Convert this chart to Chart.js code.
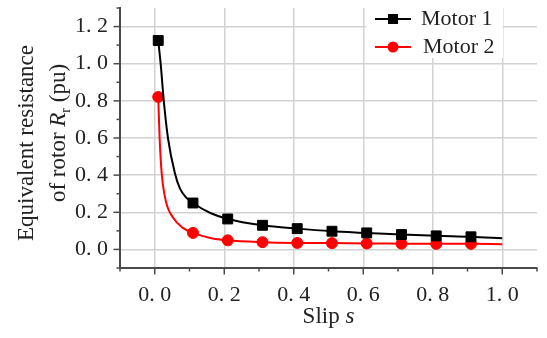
<!DOCTYPE html>
<html>
<head>
<meta charset="utf-8">
<script src="https://cdn.jsdelivr.net/npm/chart.js@4"></script>
<style>
  body { margin: 0; background: #fff; }
  #wrap { width: 547px; height: 338px; }
</style>
</head>
<body>
<div id="wrap"><canvas id="chart1" width="547" height="338"></canvas></div>
<script>
  // slip values where the markers sit
  const slipMarks = [0.01, 0.11, 0.21, 0.31, 0.41, 0.51, 0.61, 0.71, 0.81, 0.91];
  const motor1Marks = [1.125, 0.25, 0.164, 0.130, 0.112, 0.098, 0.089, 0.080, 0.073, 0.068];
  const motor2Marks = [0.821, 0.089, 0.049, 0.039, 0.035, 0.034, 0.032, 0.031, 0.030, 0.030];

  // points along the continuous curves
  const motor1CurveS = [0.01, 0.017, 0.026, 0.038, 0.058, 0.072, 0.09, 0.11, 0.16, 0.21, 0.31, 0.41, 0.51, 0.61, 0.71, 0.81, 0.91, 1.0];
  const motor1CurveR = [1.125, 1.0, 0.8, 0.6, 0.41, 0.33, 0.28, 0.25, 0.196, 0.164, 0.130, 0.112, 0.098, 0.089, 0.080, 0.073, 0.068, 0.060];
  const motor2CurveS = [0.01, 0.014, 0.02, 0.032, 0.053, 0.081, 0.11, 0.16, 0.21, 0.31, 0.41, 0.51, 0.61, 0.71, 0.81, 0.91, 1.0];
  const motor2CurveR = [0.821, 0.6, 0.41, 0.26, 0.17, 0.116, 0.089, 0.062, 0.049, 0.039, 0.035, 0.034, 0.032, 0.031, 0.030, 0.030, 0.028];

  const seriesNames = ['Motor 1', 'Motor 2'];
  const seriesColors = ['#000000', '#ff0000'];

  const serif = '"Liberation Serif", "Times New Roman", serif';
  const gridColor = '#d2d2d2';
  const axisColor = '#4a4a4a';
  const textColor = '#222222';

  const toXY = (xs, ys) => xs.map((x, i) => ({ x: x, y: ys[i] }));

  function gridFor(maxK) {
    return (c) => {
      const k = Math.round(c.tick.value * 10);
      return (k % 2 === 0 && k >= 0 && k <= maxK) ? gridColor : 'rgba(0,0,0,0)';
    };
  }
  function labelFor(maxK) {
    return (v) => {
      const k = Math.round(v * 10);
      if (k % 2 !== 0 || k < 0 || k > maxK) return '';
      return (k / 10).toFixed(1).replace('.', '. ');
    };
  }

  // outward ticks, legend and axis titles
  const extras = {
    id: 'extras',
    afterDraw(chart) {
      const c = chart.ctx;
      const xs = chart.scales.x, ys = chart.scales.y;
      const area = chart.chartArea;
      c.save();
      c.strokeStyle = axisColor;
      c.lineWidth = 1.5;
      for (let k = -1; k <= 11; k++) {
        const px = xs.getPixelForValue(k / 10);
        const len = (k % 2 === 0 && k >= 0 && k <= 10) ? 6.5 : 3.5;
        c.beginPath(); c.moveTo(px, area.bottom); c.lineTo(px, area.bottom + len); c.stroke();
      }
      for (let k = -1; k <= 13; k++) {
        const py = ys.getPixelForValue(k / 10);
        const len = (k % 2 === 0 && k >= 0 && k <= 12) ? 6.5 : 3.5;
        c.beginPath(); c.moveTo(area.left, py); c.lineTo(area.left - len, py); c.stroke();
      }

      // legend
      c.fillStyle = '#fff';
      c.fillRect(366, 4, 137, 54);
      const rows = [19, 47];
      const textX = [421, 423];
      rows.forEach((y, i) => {
        c.strokeStyle = seriesColors[i];
        c.fillStyle = seriesColors[i];
        c.lineWidth = 2;
        c.beginPath(); c.moveTo(375, y); c.lineTo(411, y); c.stroke();
        if (i === 0) {
          c.fillRect(393 - 5, y - 5, 10, 10);
        } else {
          c.beginPath(); c.arc(393, y, 5.5, 0, Math.PI * 2); c.fill();
        }
        c.fillStyle = textColor;
        c.font = '22px ' + serif;
        c.textAlign = 'left';
        c.textBaseline = 'alphabetic';
        c.fillText(seriesNames[i], textX[i], y + 6);
      });

      // x title: Slip s
      c.fillStyle = textColor;
      c.textBaseline = 'alphabetic';
      c.textAlign = 'left';
      const reg = '23px ' + serif, ita = 'italic 23px ' + serif;
      c.font = reg; const w1 = c.measureText('Slip ').width;
      c.font = ita; const w2 = c.measureText('s').width;
      let x0 = (area.left + area.right) / 2 - (w1 + w2) / 2;
      c.font = reg; c.fillText('Slip ', x0, 323);
      c.font = ita; c.fillText('s', x0 + w1, 323);

      // y title, two rotated lines
      c.save();
      c.translate(32.5, 143);
      c.rotate(-Math.PI / 2);
      c.font = reg;
      c.textAlign = 'center';
      c.fillText('Equivalent resistance', 0, 0);
      c.restore();

      c.save();
      c.translate(65, 133);
      c.rotate(-Math.PI / 2);
      c.textAlign = 'left';
      const sub = '14px ' + serif;
      const parts = [['of rotor ', reg, 0], ['R', ita, 0], ['r', sub, 5], [' (pu)', reg, 0]];
      let total = 0;
      parts.forEach(p => { c.font = p[1]; p.push(c.measureText(p[0]).width); total += p[3]; });
      let px = -total / 2;
      parts.forEach(p => { c.font = p[1]; c.fillText(p[0], px, p[2]); px += p[3]; });
      c.restore();

      c.restore();
    }
  };

  const ctx = document.getElementById('chart1').getContext('2d');
  new Chart(ctx, {
    type: 'scatter',
    data: {
      datasets: [{
        label: seriesNames[0],
        data: toXY(motor1CurveS, motor1CurveR),
        showLine: true,
        borderColor: seriesColors[0],
        borderWidth: 2,
        pointRadius: 0,
        cubicInterpolationMode: 'monotone'
      }, {
        label: seriesNames[0],
        data: toXY(slipMarks, motor1Marks),
        showLine: false,
        pointStyle: 'rect',
        pointRadius: 7,
        backgroundColor: seriesColors[0],
        borderColor: seriesColors[0],
        borderWidth: 1
      }, {
        label: seriesNames[1],
        data: toXY(motor2CurveS, motor2CurveR),
        showLine: true,
        borderColor: seriesColors[1],
        borderWidth: 2,
        pointRadius: 0,
        cubicInterpolationMode: 'monotone'
      }, {
        label: seriesNames[1],
        data: toXY(slipMarks, motor2Marks),
        showLine: false,
        pointStyle: 'circle',
        pointRadius: 5.5,
        backgroundColor: seriesColors[1],
        borderColor: seriesColors[1],
        borderWidth: 1
      }]
    },
    options: {
      responsive: false,
      animation: false,
      layout: { padding: { top: 6, right: 10, left: 0, bottom: 0 } },
      plugins: {
        legend: { display: false },
        tooltip: { enabled: false }
      },
      scales: {
        x: {
          type: 'linear',
          min: -0.1,
          max: 1.1,
          afterFit(scale) {
            scale.height = 70;
            scale.paddingLeft = 0;
            scale.paddingRight = 0;
          },
          border: { color: axisColor, width: 2 },
          grid: { color: gridFor(10), lineWidth: 1.5, drawTicks: false },
          ticks: {
            stepSize: 0.1,
            autoSkip: false,
            maxRotation: 0,
            padding: 14,
            color: textColor,
            font: { family: serif, size: 22 },
            callback: labelFor(10)
          }
        },
        y: {
          min: -0.1,
          max: 1.3,
          afterFit(scale) {
            scale.width = 120;
            scale.paddingTop = 0;
            scale.paddingBottom = 0;
          },
          border: { color: axisColor, width: 2 },
          grid: { color: gridFor(12), lineWidth: 1.5, drawTicks: false },
          ticks: {
            stepSize: 0.1,
            autoSkip: false,
            padding: 12,
            color: textColor,
            font: { family: serif, size: 22 },
            callback: labelFor(12)
          }
        }
      }
    },
    plugins: [extras]
  });
</script>
</body>
</html>
